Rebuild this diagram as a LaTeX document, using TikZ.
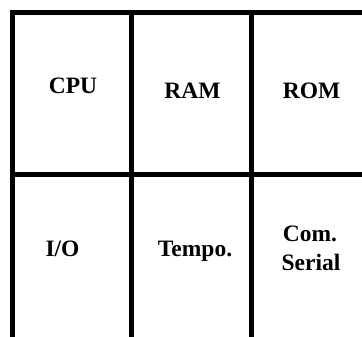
\documentclass[tikz,border=0pt]{standalone}
\usepackage{fontspec}
\setmainfont{Liberation Serif}
\begin{document}
\begin{tikzpicture}[x=1pt,y=-1pt,
  gridline/.style={line width=5pt, black},
  lbl/.style={font=\fontsize{23.5}{28}\selectfont\bfseries, inner sep=0pt, text=black, anchor=base}]
\fill[white] (0,0) rectangle (362,337);
\useasboundingbox (0,0) rectangle (362,337);
\draw[gridline] (12.5,337) -- (12.5,12.5) -- (362,12.5);
\draw[gridline] (131.5,12.5) -- (131.5,337);
\draw[gridline] (251.5,12.5) -- (251.5,337);
\draw[gridline] (12.5,174.5) -- (362,174.5);
\node[lbl] (cpu) at (73,93.3) {CPU};
\node[lbl] (ram) at (192.5,98.5) {RAM};
\node[lbl] (rom) at (311.5,98.5) {ROM};
\node[lbl] (io) at (62.5,256.5) {I/O};
\node[lbl] (tempo) at (195,256) {Tempo.};
\node[lbl] (com) at (310,241.7) {Com.};
\node[lbl] (serial) at (311,270) {Serial};
\end{tikzpicture}
\end{document}
